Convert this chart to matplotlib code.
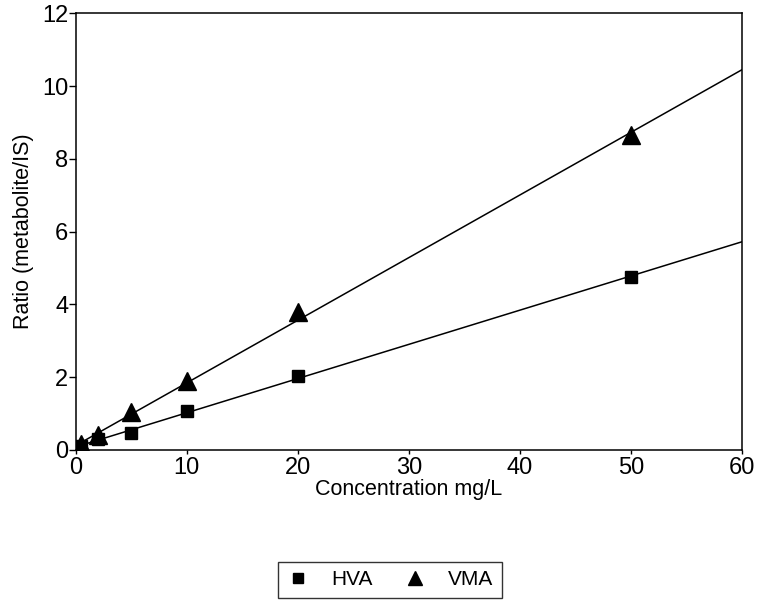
import numpy as np
import matplotlib.pyplot as plt

plt.rcParams['font.family'] = ['Liberation Sans', 'DejaVu Sans']

# measured points
conc = [0.5, 2, 5, 10, 20, 50]
hva = [0.10, 0.30, 0.47, 1.07, 2.02, 4.75]
vma = [0.17, 0.40, 1.05, 1.90, 3.80, 8.65]

# fitted lines, read at the ends of the axis
fit_x = [0, 60]
hva_fit = [0.08, 5.72]
vma_fit = [0.12, 10.45]

fig = plt.figure(figsize=(7.58, 6.03), dpi=100)
ax = fig.add_axes([0.100, 0.254, 0.879, 0.724])

ax.plot(fit_x, hva_fit, color='black', lw=1.1, zorder=2)
ax.plot(fit_x, vma_fit, color='black', lw=1.1, zorder=2)
ax.plot(conc, hva, linestyle='none', marker='s', ms=9, color='black', label='HVA', zorder=3)
ax.plot(conc, vma, linestyle='none', marker='^', ms=12.5, color='black', label='VMA', zorder=3)

ax.set_xlim(0, 60)
ax.set_ylim(0, 12)
ax.set_xticks([0, 10, 20, 30, 40, 50, 60])
ax.set_yticks([0, 2, 4, 6, 8, 10, 12])
ax.tick_params(direction='out', width=1, labelsize=17)
ax.tick_params(axis='x', length=3, pad=2)
ax.tick_params(axis='y', length=5, pad=0.5)
for s in ax.spines.values():
    s.set_linewidth(1.1)

ax.set_xlabel('Concentration mg/L', fontsize=15.5, labelpad=0.5)
ax.set_ylabel('Ratio (metabolite/IS)', fontsize=15.5, labelpad=6)

fig.legend(loc='upper center', bbox_to_anchor=(0.514, 0.068), ncol=2, fontsize=15,
           frameon=True, fancybox=False, edgecolor='black', borderpad=0.4,
           borderaxespad=0, handletextpad=1.0, columnspacing=1.4,
           handlelength=1.2, markerscale=0.85)

plt.savefig('out.png', dpi=100)
